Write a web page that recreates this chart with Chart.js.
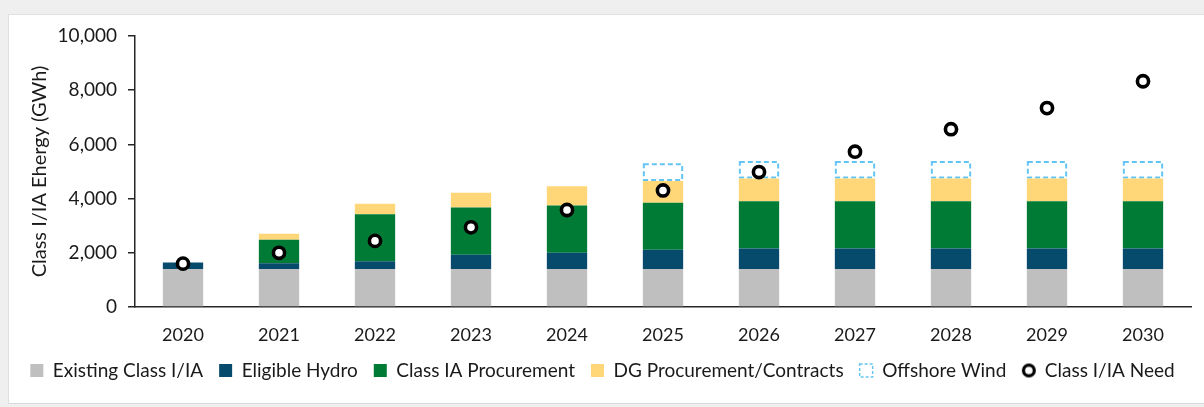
<!DOCTYPE html>
<html>
<head>
<meta charset="utf-8">
<script src="https://cdn.jsdelivr.net/npm/chart.js@4.4.1/dist/chart.umd.min.js"></script>
<style>
  html, body { margin: 0; padding: 0; width: 1204px; height: 407px; overflow: hidden; background: #efefef; }
  #panel { position: absolute; left: 8px; top: 14px; width: 1196px; height: 390px; background: #fff; border-left: 1px solid #e0e0e0; border-top: 1px solid #e0e0e0; border-bottom: 1px solid #d9d9d9; box-sizing: border-box; }
  #wrap { position: absolute; left: 0; top: 0; width: 1204px; height: 407px; }
</style>
</head>
<body>
<div id="panel"></div>
<div id="wrap"><canvas id="c" width="1204" height="407"></canvas></div>
<script>
const years = ['2020','2021','2022','2023','2024','2025','2026','2027','2028','2029','2030'];
const existingClass = [1400, 1400, 1400, 1400, 1400, 1400, 1400, 1400, 1400, 1400, 1400];
const eligibleHydro = [240, 210, 290, 530, 600, 710, 760, 760, 760, 760, 760];
const classIAProcurement = [0, 870, 1730, 1740, 1750, 1740, 1740, 1740, 1740, 1740, 1740];
const dgProcurement = [0, 220, 390, 550, 710, 800, 840, 840, 840, 840, 840];
const offshoreWind = [null, null, null, null, null, 650, 650, 650, 650, 650, 650];
const classNeed = [1600, 2000, 2440, 2940, 3580, 4300, 4980, 5730, 6560, 7340, 8330];
const yTicks = [0, 2000, 4000, 6000, 8000, 10000];

const FONT = 'Lato, "Liberation Sans", sans-serif';
const OFF_COLOR = '#63c6f2';

// legend icon for the "need" series
const needIcon = document.createElement('canvas');
needIcon.width = 16; needIcon.height = 16;
(function(){ const g = needIcon.getContext('2d'); g.beginPath(); g.arc(8, 8, 5.4, 0, Math.PI*2); g.fillStyle='#fff'; g.fill(); g.lineWidth=3.2; g.strokeStyle='#000'; g.stroke(); })();

const dashedBorder = {
  id: 'dashedBorder',
  afterDatasetDraw(chart, args) {
    const ds = chart.data.datasets[args.index];
    if (ds.label !== 'Offshore Wind') return;
    const ctx = chart.ctx;
    ctx.save();
    ctx.strokeStyle = OFF_COLOR;
    ctx.lineWidth = 2;
    ctx.setLineDash([5, 3]);
    args.meta.data.forEach((bar, i) => {
      if (ds.data[i] == null) return;
      const p = bar.getProps(['x', 'y', 'base', 'width'], true);
      const top = Math.min(p.y, p.base), h = Math.abs(p.base - p.y);
      ctx.strokeRect(p.x - p.width / 2 + 1, top + 1, p.width - 2, h - 2);
    });
    ctx.restore();
  }
};

new Chart(document.getElementById('c'), {
  type: 'bar',
  data: {
    labels: years,
    datasets: [
      { label: 'Existing Class I/IA', data: existingClass, backgroundColor: '#bfbfbf', stack: 's' },
      { label: 'Eligible Hydro', data: eligibleHydro, backgroundColor: '#064b6c', stack: 's' },
      { label: 'Class IA Procurement', data: classIAProcurement, backgroundColor: '#007b35', stack: 's' },
      { label: 'DG Procurement/Contracts', data: dgProcurement, backgroundColor: '#ffd779', stack: 's' },
      { label: 'Offshore Wind', data: offshoreWind, backgroundColor: '#ffffff', stack: 's' },
      { type: 'line', label: 'Class I/IA Need', data: classNeed, showLine: false, stack: 'need', order: -1,
        pointRadius: 5.6, pointHoverRadius: 5.6, pointBorderWidth: 3.6, pointBackgroundColor: '#ffffff', pointBorderColor: '#000000',
        backgroundColor: '#ffffff', borderColor: '#000000', borderWidth: 3 }
    ]
  },
  options: {
    responsive: false,
    animation: false,
    events: [],
    datasets: { bar: { barPercentage: 0.42, categoryPercentage: 1.0, borderWidth: 0 } },
    layout: { padding: { top: 36, right: 13, left: 14, bottom: 17 } },
    scales: {
      x: {
        stacked: true,
        grid: { display: false, drawTicks: false, tickLength: 0 },
        border: { display: true, color: '#262626', width: 1.5 },
        ticks: { color: '#1a1a1a', font: { family: FONT, size: 18 }, padding: 17 },
        afterFit(scale) { scale.height = 38; }
      },
      y: {
        stacked: true,
        min: 0, max: 10000,
        afterBuildTicks(scale) { scale.ticks = yTicks.map(v => ({ value: v })); },
        grid: { display: true, drawOnChartArea: false, drawTicks: true, tickLength: 7, color: '#262626', lineWidth: 1.5 },
        border: { display: true, color: '#262626', width: 1.5 },
        ticks: { color: '#1a1a1a', font: { family: FONT, size: 19 }, padding: 11,
          callback: v => Number(v).toLocaleString('en-US') },
        title: { display: true, text: 'Class I/IA Ehergy (GWh)', color: '#1a1a1a', font: { family: FONT, size: 20 }, padding: { top: 14, bottom: 0 } },
        afterFit(scale) { scale.width = 121; }
      }
    },
    plugins: {
      tooltip: { enabled: false },
      legend: {
        position: 'bottom',
        labels: {
          usePointStyle: true,
          boxHeight: 13, boxWidth: 13,
          padding: 16,
          color: '#1a1a1a',
          font: { family: FONT, size: 19 },
          sort: (a, b) => a.datasetIndex - b.datasetIndex,
          generateLabels(chart) {
            const items = Chart.defaults.plugins.legend.labels.generateLabels(chart);
            items.forEach(it => {
              const ds = chart.data.datasets[it.datasetIndex];
              if (ds.type === 'line') {
                it.pointStyle = needIcon; it.lineWidth = 0;
              } else if (ds.label === 'Offshore Wind') {
                it.pointStyle = 'rect'; it.fillStyle = '#ffffff'; it.strokeStyle = OFF_COLOR; it.lineWidth = 1.5; it.lineDash = [3, 2];
              } else {
                it.pointStyle = 'rect'; it.lineWidth = 0; it.strokeStyle = it.fillStyle;
              }
            });
            return items;
          }
        }
      }
    }
  },
  plugins: [dashedBorder]
});
</script>
</body>
</html>
